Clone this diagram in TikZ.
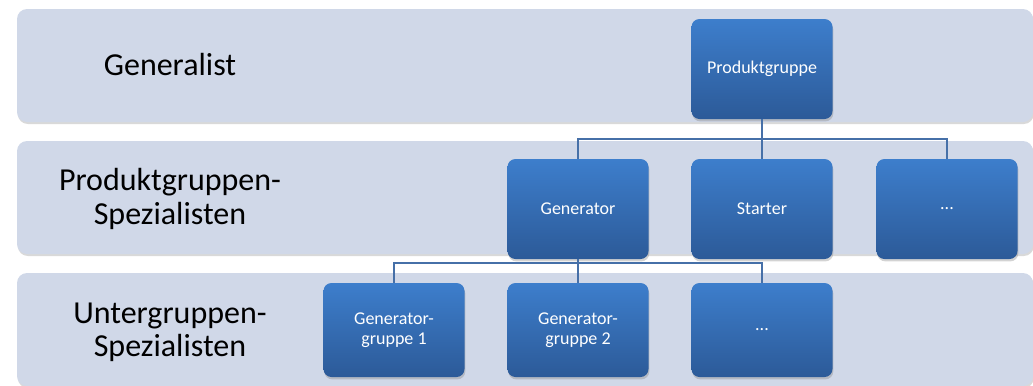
\documentclass[tikz,border=0pt]{standalone}
\usepackage{fontspec}
\setmainfont{Carlito}
\usetikzlibrary{shadows}
\definecolor{bandfill}{RGB}{208,216,232}
\definecolor{boxtop}{RGB}{61,126,204}
\definecolor{boxbottom}{RGB}{44,90,152}
\definecolor{connblue}{RGB}{70,112,168}
\tikzset{
  band/.style={fill=bandfill, rounded corners=7.5pt, drop shadow={opacity=0.3, shadow xshift=0.6pt, shadow yshift=-1.5pt}},
  lvl/.style={font=\fontsize{24}{25}\selectfont, align=center, text=black},
  orgbox/.style={rounded corners=6pt, top color=boxtop, bottom color=boxbottom, text=white,
    minimum width=105.75pt, minimum height=75pt, align=center, font=\fontsize{13.5}{15}\selectfont,
    drop shadow={opacity=0.35, shadow xshift=0.6pt, shadow yshift=-1.8pt}},
  subbox/.style={orgbox, minimum height=70.5pt},
  conn/.style={draw=connblue, line width=1.2pt}
}
\begin{document}
\begin{tikzpicture}[x=0.75pt, y=-0.75pt]
  \useasboundingbox (0,0) rectangle (1033,386);
  % levels
  \fill[band] (17,9) rectangle (1033,122);
  \fill[band] (17,141) rectangle (1033,254);
  \fill[band] (17,273) rectangle (1033,386);
  \node[lvl] (lgen) at (170,65) {Generalist};
  \node[lvl] (lpg) at (170,199) {Produktgruppen-\\Spezialisten};
  \node[lvl] (lug) at (170,332) {Untergruppen-\\Spezialisten};
  % connectors
  \coordinate (bus1) at (762,139);
  \coordinate (bus2) at (578,263);
  % boxes
  \node[orgbox] (pg) at (762,69) {Produktgruppe};
  \node[orgbox] (gen) at (578,209) {Generator};
  \node[orgbox] (st) at (762,209) {Starter};
  \node[orgbox] (more1) at (947,209) {...};
  \node[subbox] (gg1) at (394,330) {Generator-\\gruppe 1};
  \node[subbox] (gg2) at (578,330) {Generator-\\gruppe 2};
  \node[subbox] (more2) at (762,330) {...};
  \draw[conn] (pg.south) -- (st.north);
  \draw[conn] (gen.north) |- (bus1) -| (more1.north);
  \draw[conn] (gen.south) -- (gg2.north);
  \draw[conn] (gg1.north) |- (bus2) -| (more2.north);
\end{tikzpicture}
\end{document}
